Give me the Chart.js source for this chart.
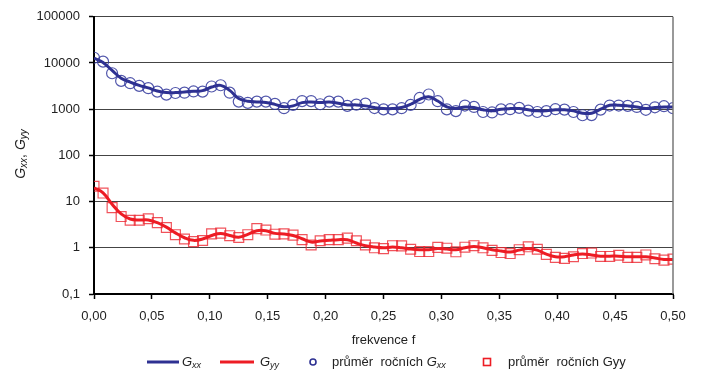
<!DOCTYPE html>
<html>
<head>
<meta charset="utf-8">
<script src="https://cdn.jsdelivr.net/npm/chart.js@4/dist/chart.umd.min.js"></script>
<style>
    html, body { margin: 0; padding: 0; background: #fff; }
    #wrap { width: 702px; height: 374px; }
</style>
</head>
<body>
<div id="wrap"><canvas id="gChart" width="702" height="374"></canvas></div>
<script>
// hodnoty (frekvence k/128, k = 0..64)
const gxxLine = [12800, 10300, 6900, 4700, 3870, 3280, 2890, 2480, 2290, 2290,
    2370, 2440, 2520, 3020, 3280, 2560, 1700, 1490, 1440, 1400,
    1270, 1130, 1180, 1390, 1430, 1390, 1430, 1340, 1240, 1240,
    1180, 1085, 1030, 1030, 1085, 1280, 1630, 1860, 1500, 1120,
    1030, 1120, 1085, 970, 920, 1000, 1030, 1030, 970, 920,
    920, 970, 970, 920, 820, 820, 1000, 1220, 1220, 1180,
    1120, 1030, 1085, 1120, 1120];

const gyyLine = [20, 15.5, 8.8, 5.4, 4.2, 4.0, 4.0, 3.5, 2.8, 2.1,
    1.65, 1.45, 1.55, 1.85, 2.05, 1.85, 1.7, 1.95, 2.35, 2.35,
    2.05, 2.0, 1.85, 1.57, 1.33, 1.4, 1.45, 1.5, 1.5, 1.27,
    1.11, 1.04, 1.0, 1.04, 1.0, 0.94, 0.91, 0.91, 0.97, 0.94,
    0.91, 1.0, 1.07, 1.0, 0.91, 0.855, 0.81, 0.89, 0.97, 0.89,
    0.73, 0.64, 0.64, 0.7, 0.73, 0.7, 0.66, 0.66, 0.66, 0.64,
    0.64, 0.64, 0.6, 0.56, 0.56];

// průměry ročních hodnot
const gxxPrumer = [13000, 10700, 6000, 4100, 3650, 3200, 2850, 2400, 2070, 2240,
    2280, 2420, 2400, 3100, 3300, 2280, 1460, 1370, 1460, 1460,
    1300, 1050, 1240, 1500, 1500, 1280, 1460, 1460, 1180, 1260,
    1320, 1060, 990, 990, 1050, 1240, 1750, 2080, 1490, 990,
    910, 1200, 1120, 870, 850, 990, 1000, 1070, 930, 870,
    910, 1000, 980, 870, 740, 745, 980, 1200, 1200, 1180,
    1120, 970, 1100, 1160, 1050];

const gyyPrumer = [21.5, 15.3, 7.4, 4.75, 3.95, 3.95, 4.25, 3.5, 2.75, 1.92,
    1.55, 1.36, 1.44, 2.0, 2.08, 1.83, 1.67, 1.92, 2.6, 2.42,
    1.97, 2.0, 1.88, 1.5, 1.15, 1.42, 1.5, 1.5, 1.62, 1.42,
    1.15, 1.0, 0.96, 1.11, 1.1, 0.93, 0.83, 0.83, 1.02, 0.98,
    0.82, 1.03, 1.11, 1.0, 0.88, 0.79, 0.75, 0.91, 1.05, 0.93,
    0.72, 0.62, 0.59, 0.64, 0.75, 0.77, 0.65, 0.65, 0.69, 0.62,
    0.62, 0.7, 0.58, 0.54, 0.57];

const freq = gxxLine.map((_, i) => i / 128);
const xTicks = [0, 0.05, 0.10, 0.15, 0.20, 0.25, 0.30, 0.35, 0.40, 0.45, 0.50];
const yTicks = [0.1, 1, 10, 100, 1000, 10000, 100000];

const BLUE = "#2e3192";
const RED = "#ed1c24";
const FONT = "'Liberation Sans', Arial, sans-serif";

const pts = (arr) => arr.map((v, i) => ({ x: freq[i], y: v }));

// text s dolními indexy
function drawRich(ctx, parts, x, y, size) {
    let cx = x;
    parts.forEach(p => {
        const fs = p.sub ? Math.round(size * 0.7) : size;
        ctx.font = `${p.italic ? "italic " : ""}${fs}px ${FONT}`;
        ctx.fillText(p.t, cx, y + (p.sub ? 3 : 0));
        cx += ctx.measureText(p.t).width;
    });
    return cx - x;
}
function richWidth(ctx, parts, size) {
    let w = 0;
    parts.forEach(p => {
        const fs = p.sub ? Math.round(size * 0.7) : size;
        ctx.font = `${p.italic ? "italic " : ""}${fs}px ${FONT}`;
        w += ctx.measureText(p.t).width;
    });
    return w;
}

const extras = {
    id: "extras",
    afterDraw(chart) {
        const ctx = chart.ctx;
        const a = chart.chartArea;
        ctx.save();

        // pravý okraj
        ctx.strokeStyle = "#777";
        ctx.lineWidth = 1.5;
        ctx.beginPath();
        ctx.moveTo(a.right, a.top);
        ctx.lineTo(a.right, a.bottom);
        ctx.stroke();

        ctx.fillStyle = "#222";
        ctx.textBaseline = "middle";

        // popisek osy y
        const yParts = [
            { t: "G", italic: true }, { t: "xx", italic: true, sub: true },
            { t: ", " }, { t: "G", italic: true }, { t: "yy", italic: true, sub: true }
        ];
        ctx.save();
        ctx.translate(21, 154);
        ctx.rotate(-Math.PI / 2);
        const yw = richWidth(ctx, yParts, 14);
        drawRich(ctx, yParts, -yw / 2, 0, 14);
        ctx.restore();

        // popisek osy x
        ctx.font = `13px ${FONT}`;
        ctx.textAlign = "center";
        ctx.fillText("frekvence f", (a.left + a.right) / 2, 340);
        ctx.textAlign = "left";

        // legenda
        const ly = 362;
        ctx.lineWidth = 3;
        ctx.strokeStyle = BLUE;
        ctx.beginPath(); ctx.moveTo(147, ly); ctx.lineTo(179, ly); ctx.stroke();
        drawRich(ctx, [{ t: "G", italic: true }, { t: "xx", italic: true, sub: true }], 182, ly, 13);

        ctx.strokeStyle = RED;
        ctx.beginPath(); ctx.moveTo(220, ly); ctx.lineTo(254, ly); ctx.stroke();
        drawRich(ctx, [{ t: "G", italic: true }, { t: "yy", italic: true, sub: true }], 260, ly, 13);

        ctx.lineWidth = 1.6;
        ctx.strokeStyle = BLUE;
        ctx.beginPath(); ctx.arc(313, ly, 3, 0, Math.PI * 2); ctx.stroke();
        drawRich(ctx, [{ t: "průměr  ročních " }, { t: "G", italic: true }, { t: "xx", italic: true, sub: true }], 332, ly, 13);

        ctx.strokeStyle = RED;
        ctx.strokeRect(483.5, ly - 3.5, 7, 7);
        drawRich(ctx, [{ t: "průměr  ročních Gyy" }], 508, ly, 13);

        ctx.restore();
    }
};

new Chart(document.getElementById("gChart"), {
    type: "line",
    data: {
        datasets: [
            {
                label: "Gxx",
                data: pts(gxxLine),
                borderColor: BLUE,
                borderWidth: 3,
                pointRadius: 0,
                tension: 0.4,
                fill: false,
                order: 0
            },
            {
                label: "Gyy",
                data: pts(gyyLine),
                borderColor: RED,
                borderWidth: 3,
                pointRadius: 0,
                tension: 0.4,
                fill: false,
                order: 0
            },
            {
                label: "průměr ročních Gxx",
                data: pts(gxxPrumer),
                showLine: false,
                pointStyle: "circle",
                pointRadius: 5.5,
                pointBorderWidth: 1.2,
                pointBorderColor: "rgba(50,56,156,0.85)",
                pointBackgroundColor: "rgba(0,0,0,0)",
                order: 1
            },
            {
                label: "průměr ročních Gyy",
                data: pts(gyyPrumer),
                showLine: false,
                pointStyle: "rect",
                pointRadius: 7,
                pointBorderWidth: 1.2,
                pointBorderColor: "rgba(236,40,50,0.8)",
                pointBackgroundColor: "rgba(0,0,0,0)",
                order: 1
            }
        ]
    },
    options: {
        responsive: false,
        animation: false,
        layout: { padding: { left: 0, right: 29, top: 13, bottom: 0 } },
        plugins: {
            legend: { display: false },
            tooltip: { enabled: false }
        },
        scales: {
            x: {
                type: "linear",
                min: 0,
                max: 0.5,
                afterBuildTicks: (scale) => { scale.ticks = xTicks.map(v => ({ value: v })); },
                afterFit: (scale) => { scale.height = 80; },
                ticks: {
                    color: "#222",
                    font: { family: FONT, size: 13 },
                    padding: 10,
                    maxRotation: 0,
                    callback: (v) => Number(v).toFixed(2).replace(".", ",")
                },
                grid: {
                    drawOnChartArea: false,
                    drawTicks: true,
                    tickLength: 5,
                    tickColor: "#000",
                    tickWidth: 1.5
                },
                border: { color: "#000", width: 2 }
            },
            y: {
                type: "logarithmic",
                min: 0.1,
                max: 100000,
                afterBuildTicks: (scale) => { scale.ticks = yTicks.map(v => ({ value: v })); },
                afterFit: (scale) => { scale.width = 94; },
                ticks: {
                    color: "#222",
                    font: { family: FONT, size: 13 },
                    padding: 9,
                    callback: (v) => (v < 1 ? String(v).replace(".", ",") : String(v))
                },
                grid: {
                    color: "#444",
                    lineWidth: 1,
                    drawTicks: true,
                    tickLength: 5,
                    tickColor: "#000",
                    tickWidth: 1.5
                },
                border: { color: "#000", width: 2 }
            }
        }
    },
    plugins: [extras]
});
</script>
</body>
</html>
